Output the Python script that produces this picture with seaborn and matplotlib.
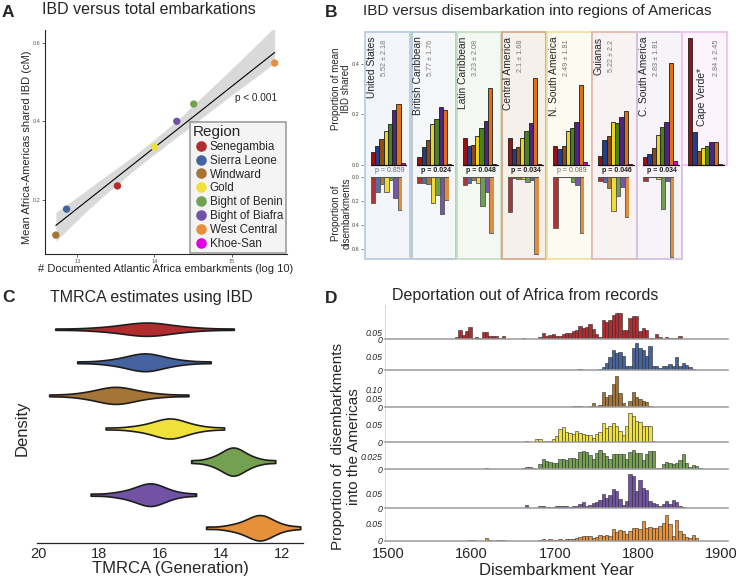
import numpy as np
import pandas as pd
import matplotlib.pyplot as plt
from matplotlib.patches import Rectangle
from matplotlib.lines import Line2D
import seaborn as sns

sns.set_style("ticks")
plt.rcParams["font.family"] = ["Liberation Sans", "DejaVu Sans"]

W, H = 736, 581

# ---------------- data ----------------
regions = ["Senegambia", "Sierra Leone", "Windward", "Gold", "Bight of Benin",
           "Bight of Biafra", "West Central", "Khoe-San"]
col_mid = ["#b12b2f", "#45639f", "#a57437", "#f0e03a", "#73a150", "#7252a4", "#e69039", "#e400e4"]
col_dark = ["#9b1014", "#243d8a", "#8c4b10", "#ead61f", "#47821f", "#502383", "#e06f15", "#dc00dc"]
col_light = ["#b03434", "#5070aa", "#aa783c", "#f0dc34", "#6ea050", "#7855aa", "#e28c3c"]

# A: IBD vs embarkations (first seven regions)
embark_log = [13.52, 12.86, 12.72, 14.00, 14.51, 14.29, 15.56]
ibd_mean = [0.236, 0.177, 0.111, 0.335, 0.444, 0.400, 0.548]

# B: regions of the Americas
amer = ["United States", "British Caribbean", "Latin Caribbean", "Central America",
        "N. South America", "Guianas", "C. South America", "Cape Verde*"]
amer_mean = [5.52, 5.77, 3.23, 2.1, 2.49, 5.22, 2.83, 2.84]
amer_sd = [2.18, 1.76, 2.08, 1.68, 1.81, 2.2, 1.81, 2.45]
p_vals = [0.859, 0.024, 0.048, 0.034, 0.089, 0.046, 0.034, None]

ibd_us = [0.053, 0.075, 0.103, 0.135, 0.162, 0.218, 0.243, 0.007]
ibd_bcar = [0.033, 0.073, 0.099, 0.161, 0.182, 0.230, 0.218, 0.003]
ibd_lcar = [0.106, 0.075, 0.079, 0.114, 0.145, 0.174, 0.304, 0.003]
ibd_cam = [0.106, 0.065, 0.071, 0.106, 0.135, 0.166, 0.343, 0.003]
ibd_nsa = [0.077, 0.062, 0.074, 0.135, 0.147, 0.169, 0.317, 0.013]
ibd_gui = [0.036, 0.099, 0.116, 0.172, 0.165, 0.191, 0.214, 0.002]
ibd_csa = [0.030, 0.044, 0.066, 0.119, 0.149, 0.172, 0.403, 0.016]
ibd_cv = [0.504, 0.132, 0.055, 0.066, 0.075, 0.092, 0.090, 0.003]
ibd_share = [ibd_us, ibd_bcar, ibd_lcar, ibd_cam, ibd_nsa, ibd_gui, ibd_csa, ibd_cv]

dis_us = [0.218, 0.120, 0.059, 0.120, 0.022, 0.176, 0.274]
dis_bcar = [0.050, 0.050, 0.059, 0.218, 0.148, 0.307, 0.190]
dis_lcar = [0.067, 0.050, 0.022, 0.045, 0.237, 0.126, 0.461]
dis_cam = [0.288, 0.003, 0.011, 0.014, 0.036, 0.022, 0.637]
dis_nsa = [0.422, 0.0, 0.0, 0.0, 0.042, 0.064, 0.461]
dis_gui = [0.028, 0.042, 0.092, 0.282, 0.156, 0.078, 0.330]
dis_csa = [0.028, 0.0, 0.0, 0.011, 0.263, 0.028, 0.665]
dis_share = [dis_us, dis_bcar, dis_lcar, dis_cam, dis_nsa, dis_gui, dis_csa]

# C: TMRCA estimates (generations)
tm_sen = [19.44, 18.42, 17.95, 17.63, 17.40, 17.21, 17.05, 16.92, 16.81, 16.70, 16.61, 16.52,
          16.45, 16.38, 16.30, 16.21, 16.10, 16.00, 15.87, 15.72, 15.54, 15.32, 15.02, 14.56, 13.58]
tm_sie = [18.72, 17.96, 17.61, 17.38, 17.20, 17.07, 16.95, 16.85, 16.77, 16.69, 16.62, 16.56,
          16.50, 16.45, 16.39, 16.32, 16.24, 16.16, 16.06, 15.95, 15.82, 15.65, 15.42, 15.08, 14.34]
tm_win = [19.64, 18.89, 18.54, 18.31, 18.14, 18.01, 17.89, 17.80, 17.72, 17.63, 17.57, 17.50,
          17.45, 17.39, 17.32, 17.25, 17.16, 17.07, 16.97, 16.84, 16.70, 16.51, 16.26, 15.88, 15.07]
tm_gol = [17.79, 17.08, 16.75, 16.53, 16.36, 16.23, 16.12, 16.03, 15.95, 15.88, 15.81, 15.75,
          15.70, 15.66, 15.60, 15.55, 15.48, 15.41, 15.34, 15.24, 15.13, 14.99, 14.80, 14.51, 13.90]
tm_ben = [14.98, 14.51, 14.29, 14.15, 14.04, 13.95, 13.88, 13.82, 13.77, 13.72, 13.67, 13.63,
          13.60, 13.57, 13.53, 13.48, 13.43, 13.38, 13.32, 13.25, 13.16, 13.05, 12.91, 12.69, 12.22]
tm_bia = [18.28, 17.62, 17.32, 17.11, 16.96, 16.84, 16.74, 16.66, 16.58, 16.51, 16.45, 16.40,
          16.35, 16.31, 16.27, 16.22, 16.16, 16.11, 16.04, 15.96, 15.87, 15.75, 15.59, 15.34, 14.82]
tm_wc = [14.49, 13.89, 13.62, 13.44, 13.30, 13.19, 13.10, 13.03, 12.96, 12.90, 12.84, 12.79,
         12.75, 12.72, 12.68, 12.64, 12.59, 12.54, 12.48, 12.41, 12.32, 12.22, 12.08, 11.86, 11.40]
tmrca = [tm_sen, tm_sie, tm_win, tm_gol, tm_ben, tm_bia, tm_wc]

# D: disembarkations per 4-year bin (first bin year + proportions)
dep_start = [1560, 1688, 1688, 1664, 1616, 1664, 1596]
dep_sen = [0.002, 0, 0.003, 0.003, 0.003, 0.02, 0.07, 0.03, 0.063, 0.095, 0.013, 0.018, 0.013,
           0.055, 0.06, 0.025, 0.025, 0.025, 0.013, 0.028, 0, 0, 0, 0, 0, 0.01, 0, 0, 0, 0.003,
           0.02, 0.045, 0.025, 0.03, 0.038, 0.028, 0.025, 0.038, 0.045, 0.05, 0.063, 0.07, 0.105,
           0.088, 0.093, 0.12, 0.08, 0.038, 0.02, 0.15, 0.13, 0.145, 0.188, 0.2, 0.2, 0.07, 0.07,
           0.163, 0.18, 0.18, 0.063, 0.088, 0.07, 0.013, 0.008, 0.04, 0.02, 0.005, 0.02, 0.008,
           0.008, 0.013, 0.028]
dep_sie = [0.002, 0.003, 0, 0.002, 0, 0, 0.002, 0, 0.003, 0.003, 0.004, 0.002, 0, 0, 0, 0.003,
           0.004, 0.013, 0.028, 0.05, 0.075, 0.065, 0.07, 0.055, 0.015, 0.018, 0.085, 0.104,
           0.085, 0.075, 0.055, 0.092, 0.015, 0.018, 0.01, 0.018, 0.018, 0.022, 0.017, 0.05,
           0.015, 0.028, 0.021, 0.012, 0.004]
dep_win = [0.002, 0, 0, 0.002, 0, 0.004, 0, 0, 0.006, 0.006, 0.006, 0, 0, 0.006, 0.023, 0.01,
           0.015, 0.086, 0.057, 0.067, 0.133, 0.175, 0.08, 0.023, 0.01, 0.038, 0.086, 0.057,
           0.048, 0.038, 0.029, 0.006, 0.004, 0.004, 0.004, 0.004, 0, 0.004, 0.004, 0.004]
dep_gol = [0.003, 0, 0, 0.01, 0.01, 0.003, 0.003, 0.005, 0.01, 0.019, 0.037, 0.043, 0.029,
           0.026, 0.024, 0.032, 0.027, 0.023, 0.022, 0.022, 0.013, 0.024, 0.029, 0.056, 0.04,
           0.046, 0.056, 0.048, 0.034, 0.021, 0.048, 0.085, 0.077, 0.06, 0.058, 0.048, 0.048,
           0.048, 0.003, 0.002, 0, 0.002, 0, 0, 0, 0, 0.002]
dep_ben = [0.002, 0.001, 0, 0, 0, 0, 0.001, 0, 0, 0.001, 0, 0.002, 0.004, 0.004, 0.003, 0.001,
           0.01, 0.021, 0.016, 0.015, 0.013, 0.013, 0.02, 0.021, 0.018, 0.023, 0.023, 0.02,
           0.035, 0.036, 0.035, 0.028, 0.02, 0.033, 0.0375, 0.033, 0.026, 0.02, 0.031, 0.03,
           0.03, 0.03, 0.02, 0.034, 0.039, 0.033, 0.032, 0.018, 0.03, 0.036, 0.036, 0.003,
           0.002, 0.01, 0.014, 0.012, 0.01, 0.013, 0.018, 0.03, 0.012, 0.005, 0.008, 0.007, 0.002]
dep_bia = [0.011, 0.002, 0.002, 0.002, 0.009, 0.006, 0.003, 0.004, 0.003, 0.007, 0.009, 0.006,
           0.007, 0.004, 0.007, 0.007, 0.013, 0.02, 0.009, 0.011, 0.017, 0.02, 0.028, 0.048,
           0.033, 0.044, 0.064, 0.056, 0.031, 0.011, 0.024, 0.114, 0.106, 0.056, 0.094, 0.067,
           0.061, 0.024, 0.017, 0.013, 0.006, 0.013, 0.024, 0.013, 0.028, 0.02, 0.009, 0.003, 0.002]
dep_wc = [0.002, 0.002, 0, 0, 0, 0.008, 0.003, 0, 0.003, 0.003, 0.002, 0, 0, 0, 0, 0, 0, 0, 0,
          0, 0, 0.003, 0.005, 0.004, 0.005, 0.004, 0.004, 0.005, 0.004, 0.005, 0.005, 0.007,
          0.008, 0.012, 0.013, 0.013, 0.013, 0.01, 0.012, 0.017, 0.013, 0.016, 0.015, 0.034,
          0.027, 0.032, 0.029, 0.019, 0.029, 0.037, 0.038, 0.035, 0.058, 0.038, 0.04, 0.038,
          0.038, 0.043, 0.053, 0.075, 0.048, 0.014, 0.06, 0.029, 0.019, 0.012, 0.01, 0.017, 0.01]
deportation = [dep_sen, dep_sie, dep_win, dep_gol, dep_ben, dep_bia, dep_wc]

# ---------------- figure ----------------
fig = plt.figure(figsize=(W / 100, H / 100), dpi=100)


def px_axes(x0, y0, x1, y1):
    return fig.add_axes([x0 / W, 1 - y1 / H, (x1 - x0) / W, (y1 - y0) / H])


def ftext(x, y, s, **kw):
    return fig.text(x / W, 1 - y / H, s, **kw)


# ===== A =====
ftext(2, 17, "A", fontsize=12.5, fontweight="bold", va="baseline")
ftext(42, 14.5, "IBD versus total embarkations", fontsize=11.5, va="baseline")
axA = px_axes(45, 30, 287, 254)
df_a = pd.DataFrame({"region": regions[:7], "embark": embark_log, "ibd": ibd_mean})
sns.regplot(data=df_a, x="embark", y="ibd", scatter=False, ax=axA, color="black",
            line_kws={"lw": 0.8}, seed=3)
sns.scatterplot(data=df_a, x="embark", y="ibd", hue="region", palette=col_mid[:7],
                s=28, edgecolor="none", legend=False, ax=axA, zorder=3)
axA.set_xlim(12.58, 15.72)
axA.set_ylim(0.063, 0.632)
axA.set_xticks([13, 14, 15])
axA.set_yticks([0.2, 0.4, 0.6])
axA.tick_params(labelsize=4, labelcolor="#555555", length=2, width=0.5, pad=1.5)
for s in ["top", "right"]:
    axA.spines[s].set_visible(False)
for s in ["left", "bottom"]:
    axA.spines[s].set_linewidth(0.8)
axA.set_xlabel("")
axA.set_ylabel("")
ftext(166, 269, "# Documented Atlantic Africa embarkments (log 10)", fontsize=8,
      ha="center", va="center")
ftext(27.5, 147.5, "Mean Africa-Americas shared IBD (cM)", fontsize=8, rotation=90,
      ha="center", va="center")
ftext(256, 98, "p < 0.001", fontsize=7.2, ha="center", va="center")
handles = [Line2D([], [], marker="o", ls="", color=c, markersize=6.6) for c in col_mid]
leg = axA.legend(handles, regions, title="Region", loc="lower right",
                 bbox_to_anchor=(1.0, 0.0), fontsize=8.4, title_fontsize=11,
                 frameon=True, fancybox=False, labelspacing=0.16, handletextpad=0.05,
                 borderpad=0.25, handlelength=1.4, borderaxespad=0.1)
leg.get_frame().set_edgecolor("#888888")
leg.get_frame().set_facecolor("#f2f2f2")
leg.get_frame().set_linewidth(1.2)
leg._legend_box.align = "left"

# ===== B =====
ftext(325, 17, "B", fontsize=12.5, fontweight="bold", va="baseline")
ftext(363.3, 15, "IBD versus disembarkation into regions of Americas", fontsize=11,
      va="baseline")
box_left = [365, 411.7, 456.7, 501.7, 547.3, 592.3, 637.3, 682.3]
box_edge = ["#b8cce2", "#b9c5d0", "#c4e0c4", "#d8a88c", "#efe0a2", "#e2bab2", "#d2c0e2", "#f0c2f0"]
box_fill = ["#f2f6fa", "#f6f7f9", "#f3f8f3", "#f6f0eb", "#fcfbf1", "#f8f2f2", "#f6f3f9", "#fcf3fc"]
bar_w = 4.46
top_y0, top_y1 = 32.3, 165
bot_y0, bot_y1 = 177.3, 259
for i, name in enumerate(amer):
    bx = box_left[i]
    bottom = top_y1 if i == 7 else bot_y1
    fig.patches.append(Rectangle((bx / W, 1 - bottom / H), 44.6 / W, (bottom - top_y0) / H,
                                 transform=fig.transFigure, facecolor=box_fill[i],
                                 edgecolor=box_edge[i], lw=1.3, zorder=-5))
    x0 = bx + 5.8
    ax = px_axes(x0, top_y0, x0 + 8 * bar_w, top_y1)
    sns.barplot(x=regions, y=ibd_share[i], hue=regions, palette=col_dark, order=regions,
                width=1, saturation=1, edgecolor="#1e1e1e", linewidth=0.6,
                legend=False, ax=ax)
    ax.set_xlim(-0.5, 7.9)
    ax.set_ylim(0, (top_y1 - top_y0) / 252.5)
    ax.plot([-0.5, 7.9], [0, 0], color="#111111", lw=0.9, clip_on=False)
    ax.axis("off")
    if i < 7:
        axb = px_axes(x0, bot_y0, x0 + 7 * bar_w, bot_y1)
        sns.barplot(x=regions[:7], y=dis_share[i], hue=regions[:7], palette=col_light,
                    order=regions[:7], width=1, saturation=1, edgecolor="#555555",
                    linewidth=0.6, legend=False, ax=axb)
        axb.set_xlim(-0.5, 6.5)
        axb.set_ylim((bot_y1 - bot_y0) / 120.0, 0)
        axb.plot([-0.5, 6.5], [0, 0], color="#555555", lw=0.8)
        axb.axis("off")
        p = p_vals[i]
        sig = p < 0.05
        ftext(bx + 24.5, 170.8, f"p = {p:.3f}", fontsize=5, ha="center", va="center",
              fontweight="bold" if sig else "normal",
              color="#1a1a1a" if sig else "#666666")
    if i == 7:
        ftext(bx + 19.4, 68, name, fontsize=7.4, rotation=90, ha="center", va="top")
        ftext(bx + 34.7, 40, f"{amer_mean[i]:g} ± {amer_sd[i]:g}", fontsize=5.2,
              rotation=90, ha="center", va="top", color="#777777")
    else:
        ftext(bx + 6.7, 36.5, name, fontsize=7.4, rotation=90, ha="center", va="top")
        ftext(bx + 19.2, 39.5, f"{amer_mean[i]:g} ± {amer_sd[i]:g}", fontsize=5.2,
              rotation=90, ha="center", va="top", color="#777777")

# shared y scales for B
ay = px_axes(363, top_y0, 364, top_y1)
ay.set_ylim(0, (top_y1 - top_y0) / 252.5)
ay.set_yticks([0.0, 0.2, 0.4])
ay.set_yticklabels(["0.0", "0.2", "0.4"])
ay2 = px_axes(363, bot_y0, 364, bot_y1)
ay2.set_ylim((bot_y1 - bot_y0) / 120.0, 0)
ay2.set_yticks([0.0, 0.2, 0.4, 0.6])
ay2.set_yticklabels(["0.0", "0.2", "0.4", "0.6"])
for a in (ay, ay2):
    a.set_xticks([])
    for s in a.spines.values():
        s.set_visible(False)
    a.patch.set_alpha(0)
    a.tick_params(axis="y", labelsize=4, labelcolor="#444444", length=1.5, width=0.5,
                  pad=0.8, color="#444444")
ftext(341, 88.5, "Proportion of mean\nIBD shared", fontsize=7, rotation=90,
      ha="center", va="center", multialignment="center", linespacing=1.1)
ftext(341, 213, "Proportion of\ndisembarkments", fontsize=7, rotation=90,
      ha="center", va="center", multialignment="center", linespacing=1.1)

# ===== C =====
ftext(2, 302, "C", fontsize=12.5, fontweight="bold", va="baseline")
ftext(50, 302, "TMRCA estimates using IBD", fontsize=11.5, va="baseline")
axC = px_axes(37.3, 310, 303.3, 543)
df_c = pd.DataFrame({"region": np.repeat(regions[:7], [len(t) for t in tmrca]),
                     "tmrca": np.concatenate(tmrca)})
sns.violinplot(data=df_c, x="tmrca", y="region", hue="region", order=regions[:7],
               hue_order=regions[:7], palette=col_mid[:7], orient="h", inner=None, cut=0,
               density_norm="area", common_norm=True, width=0.85, linewidth=1.2,
               linecolor="#1e1e1e", bw_adjust=0.8, saturation=1, legend=False, ax=axC)
axC.set_xlim(20.03, 11.3)
axC.set_ylim(6.46, -0.58)
axC.set_xticks([20, 18, 16, 14, 12])
axC.set_yticks([])
axC.tick_params(axis="x", labelsize=10.5, length=0, pad=3)
for s in ["top", "right", "left"]:
    axC.spines[s].set_visible(False)
axC.spines["bottom"].set_linewidth(0.9)
axC.set_xlabel("")
axC.set_ylabel("")
ftext(170, 569, "TMRCA (Generation)", fontsize=12, ha="center", va="center")
ftext(21.7, 428, "Density", fontsize=12, rotation=90, ha="center", va="center")

# ===== D =====
ftext(325, 303, "D", fontsize=12.5, fontweight="bold", va="baseline")
ftext(391.7, 300, "Deportation out of Africa from records", fontsize=11.5, va="baseline")
row_top = [305, 341, 372, 409, 444, 471, 510]
row_base = [339.3, 370.3, 407.3, 442.3, 469.3, 508.3, 541]
row_ymax = [0.264, 0.11, 0.2, 0.096, 0.05, 0.124, 0.089]
row_ticks = [[0, 0.05], [0, 0.05], [0, 0.05, 0.10], [0, 0.05], [0, 0.025], [0, 0.05], [0, 0.05]]
row_labels = [["0", "0.05"], ["0", "0.05"], ["0", "0.05", "0.10"], ["0", "0.05"],
              ["0", "0.025"], ["0", "0.05"], ["0", "0.05"]]
for r in range(7):
    ax = px_axes(385, row_top[r], 728, row_base[r])
    vals = deportation[r]
    df_d = pd.DataFrame({"year": dep_start[r] + 4 * np.arange(len(vals)) + 2,
                         "share": vals})
    sns.histplot(data=df_d, x="year", weights="share", binwidth=4, binrange=(1500, 1900),
                 color=col_mid[r], edgecolor="#2a2a2a", linewidth=0.4, alpha=1, ax=ax)
    ax.set_xlim(1496, 1907.6)
    ax.set_ylim(0, row_ymax[r])
    ax.set_yticks(row_ticks[r])
    ax.set_yticklabels(row_labels[r], fontstyle="italic")
    ax.tick_params(axis="y", labelsize=6.3, length=0, pad=1.5)
    ax.set_ylabel("")
    ax.patch.set_alpha(0)
    for s in ["top", "right"]:
        ax.spines[s].set_visible(False)
    ax.spines["bottom"].set_color("#9a9a9a")
    ax.spines["bottom"].set_linewidth(1.1)
    ax.spines["left"].set_color("#cfcfcf")
    ax.spines["left"].set_linewidth(0.6)
    if r < 6:
        ax.set_xticks([])
        ax.set_xlabel("")
    else:
        ax.set_xticks([1500, 1600, 1700, 1800, 1900])
        ax.tick_params(axis="x", labelsize=10.5, length=0, pad=4)
        ax.set_xlabel("Disembarkment Year", fontsize=12, labelpad=2)
ftext(346, 447, "Proportion of  disembarkments\ninto the Americas", fontsize=11,
      rotation=90, ha="center", va="center", multialignment="center")

fig.savefig("out.png", dpi=100)
